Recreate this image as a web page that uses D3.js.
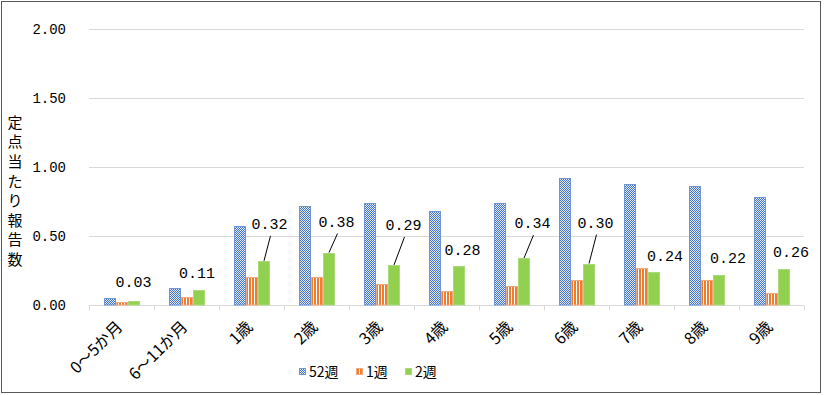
<!DOCTYPE html>
<html>
<head>
<meta charset="utf-8">
<script src="https://cdn.jsdelivr.net/npm/d3@7"></script>
<style>
  body { margin: 0; background: #fff; }
  svg { display: block; }
</style>
</head>
<body>
<svg id="chart" width="825" height="395"></svg>
<script>
// data
const categories = ["0〜5か月", "6〜11か月", "1歳", "2歳", "3歳", "4歳", "5歳", "6歳", "7歳", "8歳", "9歳"];
const seriesNames = ["52週", "1週", "2週"];
const week52 = [0.05, 0.12, 0.57, 0.72, 0.74, 0.68, 0.74, 0.92, 0.88, 0.86, 0.78];
const week1 = [0.02, 0.06, 0.20, 0.20, 0.15, 0.10, 0.14, 0.18, 0.27, 0.18, 0.09];
const week2 = [0.03, 0.11, 0.32, 0.38, 0.29, 0.28, 0.34, 0.30, 0.24, 0.22, 0.26];
const yTicks = [0, 0.5, 1.0, 1.5, 2.0];
const yTitle = "定点当たり報告数";

// label placement (pixel nudges from the top of the 2週 bar)
const labelNudge = [
    {dx: -0.5, dy: -14, leader: false},
    {dx: -2, dy: -12, leader: false},
    {dx: 5.5, dy: -32, leader: true},
    {dx: 7.5, dy: -26, leader: true},
    {dx: 9.5, dy: -35, leader: true},
    {dx: 3.5, dy: -11, leader: false},
    {dx: 8.5, dy: -30, leader: true},
    {dx: 6.5, dy: -36, leader: true},
    {dx: 11, dy: -11, leader: false},
    {dx: 9, dy: -12, leader: false},
    {dx: 7, dy: -12, leader: false}
];

const svg = d3.select("#chart");
const monoFont = "'Liberation Mono', 'DejaVu Sans Mono', monospace";
const jpFont = "'Noto Sans CJK JP', sans-serif";

const margin = {left: 89, right: 804, top: 29, bottom: 305};

// outer frame
svg.append("rect")
    .attr("x", 1.5).attr("y", 1.5)
    .attr("width", 819).attr("height", 391)
    .attr("fill", "#fff")
    .attr("stroke", "#595959");

// patterns
const defs = svg.append("defs");
let checker = defs.append("pattern")
    .attr("id", "p52")
    .attr("width", 2).attr("height", 2)
    .attr("patternUnits", "userSpaceOnUse");
checker.append("rect").attr("width", 2).attr("height", 2).attr("fill", "#E4ECF8");
checker.append("rect").attr("width", 1).attr("height", 1).attr("fill", "#4472C4");
checker.append("rect").attr("x", 1).attr("y", 1).attr("width", 1).attr("height", 1).attr("fill", "#4472C4");

let stripes = defs.append("pattern")
    .attr("id", "p1")
    .attr("width", 3).attr("height", 3)
    .attr("patternUnits", "userSpaceOnUse");
stripes.append("rect").attr("width", 3).attr("height", 3).attr("fill", "#fff");
stripes.append("rect").attr("width", 2).attr("height", 3).attr("fill", "#ED7D31");

const fills = {"52週": "url(#p52)", "1週": "url(#p1)", "2週": "#92D050"};
const strokes = {"52週": "#6F95D6", "1週": "#F4A77A", "2週": "#A9DC78"};

// scales
const x = d3.scaleBand()
    .domain(categories)
    .range([margin.left, margin.right]);

const xs = d3.scaleBand()
    .domain(seriesNames)
    .range([14.5, 50.5]);

const y = d3.scaleLinear()
    .domain([0, 2])
    .range([margin.bottom, margin.top]);

// grid
svg.append("g")
    .selectAll("line")
    .data(yTicks)
    .enter().append("line")
    .attr("x1", margin.left).attr("x2", margin.right)
    .attr("y1", d => Math.round(y(d)) + 0.5)
    .attr("y2", d => Math.round(y(d)) + 0.5)
    .attr("stroke", "#D9D9D9")
    .attr("stroke-width", 1);

// y axis labels
let yAxis = d3.axisLeft(y).tickValues(yTicks).tickFormat(d3.format(".2f")).tickSize(0).tickPadding(0);
let yg = svg.append("g")
    .attr("transform", "translate(66,0)")
    .call(yAxis);
yg.select(".domain").remove();
yg.selectAll("text")
    .attr("font-family", monoFont)
    .attr("font-size", 14)
    .attr("fill", "#000");

// y title (vertical, one char per line)
svg.append("g")
    .selectAll("text")
    .data(yTitle.split(""))
    .enter().append("text")
    .attr("x", 15)
    .attr("y", (d, i) => 122.5 + i * 19.6)
    .attr("dy", "0.35em")
    .attr("text-anchor", "middle")
    .attr("font-family", jpFont)
    .attr("font-size", 15)
    .text(d => d);

// x axis separators
let xg = svg.append("g")
    .attr("transform", "translate(0," + (margin.bottom + 0.5) + ")");
xg.selectAll("line.sep")
    .data(categories.concat(["end"]))
    .enter().append("line")
    .attr("class", "sep")
    .attr("x1", (d, i) => Math.round(margin.left + i * x.bandwidth()) + 0.5)
    .attr("x2", (d, i) => Math.round(margin.left + i * x.bandwidth()) + 0.5)
    .attr("y1", 0).attr("y2", 5)
    .attr("stroke", "#D9D9D9");

// x labels
svg.append("g")
    .selectAll("text")
    .data(categories)
    .enter().append("text")
    .attr("transform", d => "translate(" + (x(d) + x.bandwidth() / 2 + 2) + ",328) rotate(-45)")
    .attr("text-anchor", "end")
    .attr("font-family", jpFont)
    .attr("font-size", 16)
    .text(d => d);

// bars
const table = categories.map((c, i) => ({
    cat: c,
    values: [
        {s: "52週", v: week52[i]},
        {s: "1週", v: week1[i]},
        {s: "2週", v: week2[i]}
    ]
}));

let groups = svg.append("g")
    .selectAll("g")
    .data(table)
    .enter().append("g")
    .attr("transform", d => "translate(" + Math.round(x(d.cat)) + ",0)");

groups.selectAll("rect")
    .data(d => d.values)
    .enter().append("rect")
    .attr("x", d => Math.round(xs(d.s)) + 0.5)
    .attr("y", d => Math.round(y(d.v)) + 0.5)
    .attr("width", Math.round(xs.bandwidth()) - 1)
    .attr("height", d => Math.max(0, Math.round(y(0)) - Math.round(y(d.v)) - 0.5))
    .attr("fill", d => fills[d.s])
    .attr("stroke", d => strokes[d.s])
    .attr("stroke-width", 1);

// data labels for 2週
let labels = svg.append("g");
table.forEach((d, i) => {
    let bx = Math.round(x(d.cat)) + Math.round(xs("2週")) + xs.bandwidth() / 2;
    let by = y(week2[i]);
    let n = labelNudge[i];
    let tx = bx + n.dx;
    let ty = by + n.dy;
    labels.append("text")
        .attr("x", tx)
        .attr("y", ty)
        .attr("text-anchor", "middle")
        .attr("font-family", monoFont)
        .attr("font-size", 15)
        .text(week2[i].toFixed(2));
    if (n.leader) {
        labels.append("line")
            .attr("x1", tx + 1).attr("y1", ty + 7)
            .attr("x2", bx).attr("y2", by)
            .attr("stroke", "#000")
            .attr("stroke-width", 1);
    }
});

// legend
const legendX = [299, 356, 405];
let legend = svg.append("g");
seriesNames.forEach((s, i) => {
    legend.append("rect")
        .attr("x", legendX[i] + 0.5).attr("y", 368.5)
        .attr("width", 6).attr("height", 6)
        .attr("fill", fills[s])
        .attr("stroke", strokes[s]);
    legend.append("text")
        .attr("x", legendX[i] + 10)
        .attr("y", 372)
        .attr("dy", "0.35em")
        .attr("font-family", jpFont)
        .attr("font-size", 14)
        .text(s);
});
</script>
</body>
</html>
